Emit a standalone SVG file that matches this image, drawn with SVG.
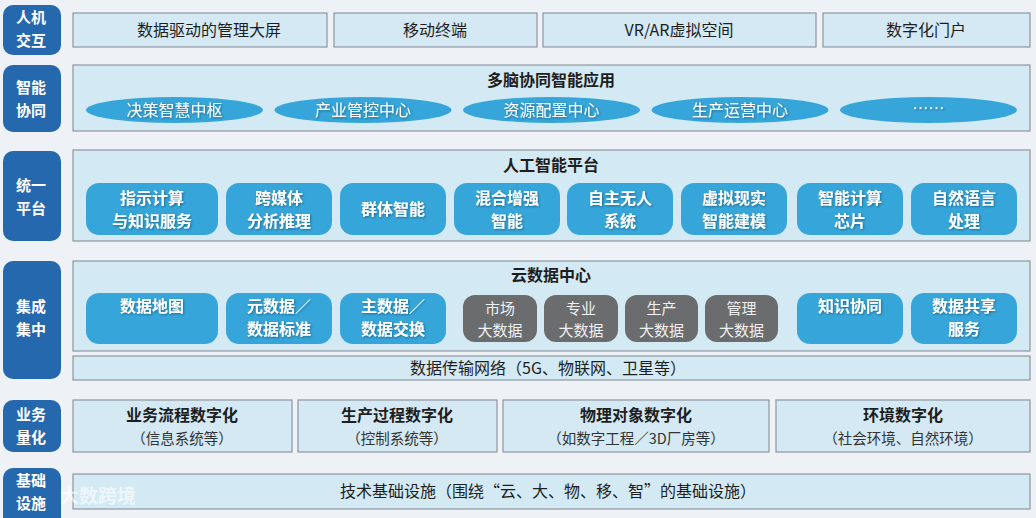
<svg xmlns="http://www.w3.org/2000/svg" width="1036" height="518" viewBox="0 0 1036 518">
<defs>
<style>
text{font-family:"Noto Sans CJK SC","Noto Sans",sans-serif;text-anchor:middle}
.lab{fill:#2568ad}
.labt{fill:#fff;font-size:15px;font-weight:bold}
.box{fill:#d4e9f4;stroke:#8e979e;stroke-width:1.2}
.pan{fill:#d3e9f3;stroke:#8e979e;stroke-width:1.2}
.t{fill:#1e1e1e;font-size:16px}
.sub{fill:#333;font-size:14.5px}
.ttl{fill:#1e1e1e;font-size:16px;font-weight:bold}
.pill{fill:#36a6da}
.gp{fill:#6b6c6e}
.pt{fill:#fff;font-size:16px;font-weight:bold}
.et{fill:#fff;font-size:16px}
.gt{fill:#eef0f2;font-size:15px}
</style>
<filter id="sh" x="-10%" y="-10%" width="130%" height="130%"><feDropShadow dx="1" dy="1" stdDeviation="1" flood-color="#123" flood-opacity="0.45"/></filter>
</defs>
<rect width="1036" height="518" fill="#eef1f5"/>

<g id="labels">
<g id="lab1"><rect class="lab" x="3" y="5" width="58" height="50" rx="10"/><text class="labt" x="31" y="23">人机</text><text class="labt" x="31" y="46">交互</text></g>
<g id="lab2"><rect class="lab" x="3" y="65" width="58" height="67" rx="10"/><text class="labt" x="31" y="93">智能</text><text class="labt" x="31" y="116">协同</text></g>
<g id="lab3"><rect class="lab" x="3" y="151" width="58" height="90" rx="10"/><text class="labt" x="31" y="191">统一</text><text class="labt" x="31" y="214">平台</text></g>
<g id="lab4"><rect class="lab" x="3" y="261" width="58" height="118" rx="10"/><text class="labt" x="31" y="312">集成</text><text class="labt" x="31" y="335">集中</text></g>
<g id="lab5"><rect class="lab" x="3" y="400" width="58" height="52" rx="10"/><text class="labt" x="31" y="420">业务</text><text class="labt" x="31" y="443">量化</text></g>
<g id="lab6"><rect class="lab" x="3" y="468" width="58" height="60" rx="10"/><text class="labt" x="31" y="486">基础</text><text class="labt" x="31" y="509">设施</text></g>
</g>

<g id="row1">
<g id="hci1"><rect class="box" x="73" y="13" width="254" height="34"/><text class="t" x="209" y="36">数据驱动的管理大屏</text></g>
<g id="hci2"><rect class="box" x="334" y="13" width="203" height="34"/><text class="t" x="435" y="36">移动终端</text></g>
<g id="hci3"><rect class="box" x="543" y="13" width="273" height="34"/><text class="t" x="679" y="36">VR/AR虚拟空间</text></g>
<g id="hci4"><rect class="box" x="823" y="13" width="207" height="34"/><text class="t" x="926" y="36">数字化门户</text></g>
</g>

<g id="row2">
<rect class="pan" x="73" y="65" width="957" height="66"/>
<text class="ttl" x="551" y="86">多脑协同智能应用</text>
<g id="e1"><ellipse class="pill" cx="174.5" cy="110" rx="88.5" ry="13"/><text class="et" x="174.5" y="116" filter="url(#sh)">决策智慧中枢</text></g>
<g id="e2"><ellipse class="pill" cx="363" cy="110" rx="88.5" ry="13"/><text class="et" x="363" y="116" filter="url(#sh)">产业管控中心</text></g>
<g id="e3"><ellipse class="pill" cx="551.5" cy="110" rx="88.5" ry="13"/><text class="et" x="551.5" y="116" filter="url(#sh)">资源配置中心</text></g>
<g id="e4"><ellipse class="pill" cx="740" cy="110" rx="88.5" ry="13"/><text class="et" x="740" y="116" filter="url(#sh)">生产运营中心</text></g>
<g id="e5"><ellipse class="pill" cx="928.5" cy="110" rx="88.5" ry="13"/><text class="et" x="928.5" y="114" filter="url(#sh)">……</text></g>
</g>

<g id="row3">
<rect class="pan" x="73" y="150" width="957" height="91"/>
<text class="ttl" x="551" y="171">人工智能平台</text>
<g id="p1"><rect class="pill" x="86" y="183" width="132" height="52" rx="13"/><text class="pt" x="152" y="204" filter="url(#sh)">指示计算</text><text class="pt" x="152" y="227" filter="url(#sh)">与知识服务</text></g>
<g id="p2"><rect class="pill" x="226" y="183" width="106" height="52" rx="13"/><text class="pt" x="279" y="204" filter="url(#sh)">跨媒体</text><text class="pt" x="279" y="227" filter="url(#sh)">分析推理</text></g>
<g id="p3"><rect class="pill" x="340" y="183" width="106" height="52" rx="13"/><text class="pt" x="393" y="215" filter="url(#sh)">群体智能</text></g>
<g id="p4"><rect class="pill" x="454" y="183" width="106" height="52" rx="13"/><text class="pt" x="507" y="204" filter="url(#sh)">混合增强</text><text class="pt" x="507" y="227" filter="url(#sh)">智能</text></g>
<g id="p5"><rect class="pill" x="567" y="183" width="106" height="52" rx="13"/><text class="pt" x="620" y="204" filter="url(#sh)">自主无人</text><text class="pt" x="620" y="227" filter="url(#sh)">系统</text></g>
<g id="p6"><rect class="pill" x="681" y="183" width="106" height="52" rx="13"/><text class="pt" x="734" y="204" filter="url(#sh)">虚拟现实</text><text class="pt" x="734" y="227" filter="url(#sh)">智能建模</text></g>
<g id="p7"><rect class="pill" x="797" y="183" width="106" height="52" rx="13"/><text class="pt" x="850" y="204" filter="url(#sh)">智能计算</text><text class="pt" x="850" y="227" filter="url(#sh)">芯片</text></g>
<g id="p8"><rect class="pill" x="911" y="183" width="106" height="52" rx="13"/><text class="pt" x="964" y="204" filter="url(#sh)">自然语言</text><text class="pt" x="964" y="227" filter="url(#sh)">处理</text></g>
</g>

<g id="row4">
<rect class="pan" x="73" y="261" width="957" height="90"/>
<text class="ttl" x="551" y="281">云数据中心</text>
<g id="d1"><rect class="pill" x="86" y="293" width="132" height="51" rx="13"/><text class="pt" x="152" y="312" filter="url(#sh)">数据地图</text></g>
<g id="d2"><rect class="pill" x="226" y="293" width="106" height="51" rx="13"/><text class="pt" x="279" y="312" filter="url(#sh)">元数据／</text><text class="pt" x="279" y="335" filter="url(#sh)">数据标准</text></g>
<g id="d3"><rect class="pill" x="340" y="293" width="106" height="51" rx="13"/><text class="pt" x="393" y="312" filter="url(#sh)">主数据／</text><text class="pt" x="393" y="335" filter="url(#sh)">数据交换</text></g>
<g id="g1"><rect class="gp" x="463" y="295" width="74" height="47" rx="12"/><text class="gt" x="500" y="314">市场</text><text class="gt" x="500" y="336">大数据</text></g>
<g id="g2"><rect class="gp" x="544" y="295" width="74" height="47" rx="12"/><text class="gt" x="581" y="314">专业</text><text class="gt" x="581" y="336">大数据</text></g>
<g id="g3"><rect class="gp" x="625" y="295" width="73" height="47" rx="12"/><text class="gt" x="661.5" y="314">生产</text><text class="gt" x="661.5" y="336">大数据</text></g>
<g id="g4"><rect class="gp" x="705" y="295" width="73" height="47" rx="12"/><text class="gt" x="741.5" y="314">管理</text><text class="gt" x="741.5" y="336">大数据</text></g>
<g id="d4"><rect class="pill" x="797" y="293" width="106" height="51" rx="13"/><text class="pt" x="850" y="312" filter="url(#sh)">知识协同</text></g>
<g id="d5"><rect class="pill" x="911" y="293" width="106" height="51" rx="13"/><text class="pt" x="964" y="312" filter="url(#sh)">数据共享</text><text class="pt" x="964" y="335" filter="url(#sh)">服务</text></g>
</g>

<g id="net"><rect class="pan" x="73" y="356" width="957" height="24"/><text class="t" x="548" y="374">数据传输网络（5G、物联网、卫星等）</text></g>

<g id="row5">
<g id="b1"><rect class="box" x="73" y="400" width="219" height="52"/><text class="ttl" x="182" y="421">业务流程数字化</text><text class="sub" x="182" y="444">（信息系统等）</text></g>
<g id="b2"><rect class="box" x="298" y="400" width="199" height="52"/><text class="ttl" x="397" y="421">生产过程数字化</text><text class="sub" x="397" y="444">（控制系统等）</text></g>
<g id="b3"><rect class="box" x="503" y="400" width="266" height="52"/><text class="ttl" x="636" y="421">物理对象数字化</text><text class="sub" x="636" y="444">（如数字工程／3D厂房等）</text></g>
<g id="b4"><rect class="box" x="776" y="400" width="254" height="52"/><text class="ttl" x="903" y="421">环境数字化</text><text class="sub" x="903" y="444">（社会环境、自然环境）</text></g>
</g>

<g id="infra"><rect class="pan" x="73" y="474" width="957" height="35"/><text class="t" x="548" y="497">技术基础设施（围绕“云、大、物、移、智”的基础设施）</text></g>

<text x="98" y="503" style="font-size:19px;font-weight:bold;fill:#ffffff;fill-opacity:0.6">大数跨境</text>
</svg>
